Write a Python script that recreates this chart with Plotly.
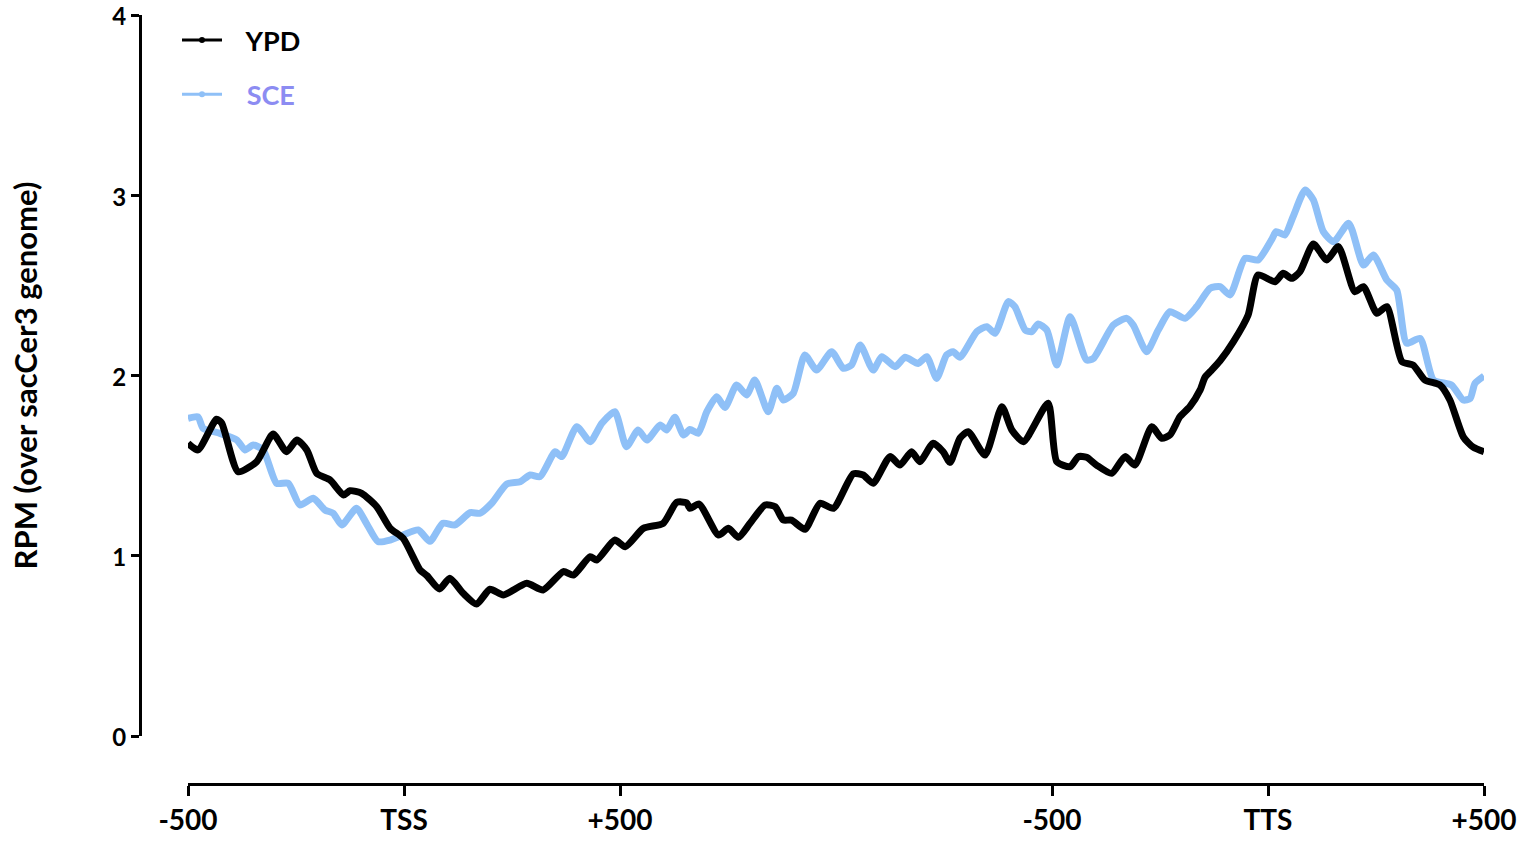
import plotly.graph_objects as go

# Genomic positions (metagene units: -500..TSS..+500 | scaled body | -500..TTS..+500)
ypd_x = [0, 23, 66, 78, 116, 159, 197, 228, 252, 275, 298, 329, 360, 375, 402, 437, 468, 498,
         537, 553, 582, 606, 637, 668, 699, 730, 784, 822, 869, 892, 931, 946, 988, 1012, 1054,
         1100, 1131, 1154, 1162, 1183, 1228, 1251, 1274, 1301, 1336, 1359, 1378, 1397, 1428,
         1463, 1494, 1540, 1563, 1586, 1625, 1648, 1675, 1694, 1725, 1748, 1764, 1787, 1806,
         1845, 1884, 1907, 1934, 1991, 2011, 2042, 2061, 2080, 2103, 2138, 2169, 2192, 2231,
         2254, 2273, 2296, 2319, 2343, 2354, 2366, 2389, 2420, 2454, 2477, 2516, 2535, 2555,
         2574, 2605, 2636, 2663, 2701, 2721, 2752, 2775, 2810, 2836, 2863, 2898, 2921, 2952,
         2975, 3000]
ypd_y = [1.624, 1.587, 1.757, 1.736, 1.466, 1.522, 1.675, 1.577, 1.642, 1.587, 1.457, 1.420,
         1.337, 1.361, 1.346, 1.272, 1.152, 1.097, 0.921, 0.890, 0.815, 0.875, 0.792, 0.732,
         0.814, 0.782, 0.847, 0.810, 0.912, 0.893, 0.995, 0.976, 1.087, 1.050, 1.152, 1.180,
         1.296, 1.294, 1.263, 1.287, 1.115, 1.152, 1.102, 1.180, 1.282, 1.272, 1.198, 1.198,
         1.147, 1.291, 1.263, 1.454, 1.448, 1.402, 1.550, 1.503, 1.577, 1.522, 1.624, 1.577,
         1.518, 1.652, 1.688, 1.559, 1.827, 1.698, 1.633, 1.846, 1.522, 1.494, 1.550, 1.546,
         1.503, 1.457, 1.550, 1.503, 1.716, 1.652, 1.670, 1.771, 1.827, 1.920, 1.990, 2.021,
         2.082, 2.188, 2.336, 2.558, 2.520, 2.567, 2.539, 2.576, 2.730, 2.641, 2.715, 2.465,
         2.493, 2.345, 2.382, 2.077, 2.058, 1.975, 1.947, 1.864, 1.660, 1.602, 1.577]

sce_x = [0, 23, 35, 74, 113, 132, 151, 174, 205, 232, 259, 290, 317, 336, 356, 390, 413, 440,
         468, 498, 533, 560, 590, 618, 653, 676, 703, 738, 769, 792, 815, 850, 865, 900, 931,
         958, 988, 1015, 1042, 1062, 1093, 1108, 1127, 1147, 1162, 1181, 1201, 1224, 1243,
         1270, 1293, 1312, 1343, 1363, 1378, 1401, 1428, 1455, 1490, 1517, 1536, 1556, 1586,
         1606, 1637, 1660, 1690, 1710, 1733, 1756, 1771, 1787, 1826, 1849, 1868, 1899, 1914,
         1938, 1953, 1968, 1988, 2011, 2042, 2080, 2096, 2142, 2173, 2188, 2219, 2246, 2273,
         2308, 2335, 2366, 2389, 2412, 2447, 2477, 2508, 2519, 2539, 2558, 2586, 2605, 2628,
         2652, 2687, 2721, 2744, 2775, 2798, 2821, 2852, 2883, 2925, 2952, 2968, 2979, 3000]
sce_y = [1.762, 1.771, 1.707, 1.679, 1.642, 1.587, 1.614, 1.587, 1.402, 1.402, 1.282, 1.319,
         1.254, 1.236, 1.171, 1.263, 1.180, 1.078, 1.087, 1.115, 1.143, 1.080, 1.180, 1.171,
         1.239, 1.236, 1.291, 1.398, 1.411, 1.448, 1.439, 1.577, 1.550, 1.716, 1.633, 1.735,
         1.799, 1.605, 1.698, 1.642, 1.725, 1.698, 1.768, 1.670, 1.700, 1.680, 1.799, 1.882,
         1.823, 1.947, 1.892, 1.975, 1.799, 1.929, 1.864, 1.901, 2.114, 2.030, 2.132, 2.040,
         2.058, 2.169, 2.030, 2.104, 2.049, 2.101, 2.067, 2.104, 1.984, 2.114, 2.132, 2.101,
         2.243, 2.271, 2.234, 2.410, 2.382, 2.252, 2.243, 2.286, 2.252, 2.058, 2.326, 2.086,
         2.095, 2.280, 2.317, 2.280, 2.132, 2.252, 2.354, 2.317, 2.382, 2.484, 2.493, 2.447,
         2.650, 2.641, 2.752, 2.798, 2.780, 2.881, 3.029, 2.974, 2.798, 2.742, 2.844, 2.613,
         2.669, 2.530, 2.474, 2.179, 2.206, 1.975, 1.947, 1.864, 1.873, 1.956, 1.997]

tick_vals = [0, 500, 1000, 2000, 2500, 3000]
tick_text = ["-500", "TSS", "+500", "-500", "TTS", "+500"]
y_ticks = [0, 1, 2, 3, 4]

BLUE = "#8FC0F7"
FONT = "Lato"
NB = "\u00a0"

fig = go.Figure()
fig.add_trace(go.Scatter(x=sce_x, y=sce_y, mode="lines",
                         line=dict(color=BLUE, width=7, shape="spline", smoothing=0.6),
                         showlegend=False, hoverinfo="skip"))
fig.add_trace(go.Scatter(x=ypd_x, y=ypd_y, mode="lines",
                         line=dict(color="black", width=7, shape="spline", smoothing=0.6),
                         showlegend=False, hoverinfo="skip"))
# legend entries
fig.add_trace(go.Scatter(x=[None], y=[None], mode="lines+markers", name=NB * 3 + "YPD",
                         legendgroup="a",
                         line=dict(color="black", width=3), marker=dict(color="black", size=6)))
fig.add_trace(go.Scatter(x=[None], y=[None], mode="lines+markers",
                         name=NB * 3 + "<span style='color:#8C8CF2'>SCE</span>",
                         legendgroup="b",
                         line=dict(color=BLUE, width=3), marker=dict(color=BLUE, size=6)))

# body margin is removed in the page, so figure coordinates = page coordinates
W, H = 1528, 843
ml, mr, mt, mb = 140, 44, 15, 59
pw, ph = W - ml - mr, H - mt - mb

fig.update_layout(
    width=W, height=H,
    margin=dict(l=ml, r=mr, t=mt, b=mb, autoexpand=False),
    plot_bgcolor="white", paper_bgcolor="white",
    font=dict(family=FONT, color="black", size=24),
    showlegend=True,
    legend=dict(x=(177 - ml) / pw, y=1 - 1 / ph, xanchor="left", yanchor="top",
                font=dict(family=FONT, size=27, color="black", weight="bold"),
                bgcolor="rgba(0,0,0,0)", itemwidth=40, tracegroupgap=16),
    xaxis=dict(domain=[48 / pw, 1], range=[0, 3000], anchor="free", position=0,
               automargin=False, ticklabeloverflow="allow",
               tickvals=tick_vals, ticktext=tick_text,
               showline=True, linecolor="black", linewidth=3,
               ticks="outside", ticklen=10, tickwidth=3, tickcolor="black",
               showgrid=False, zeroline=False,
               tickfont=dict(family=FONT, size=28, weight="bold")),
    yaxis=dict(domain=[48 / ph, 1], range=[0, 4], anchor="free", position=0,
               automargin=False, ticklabeloverflow="allow", ticklabelshift=2,
               tickvals=y_ticks,
               showline=True, linecolor="black", linewidth=3,
               ticks="outside", ticklen=8, tickwidth=3, tickcolor="black",
               showgrid=False, zeroline=False,
               tickfont=dict(family=FONT, size=24, weight="bold"),
               title=dict(text="RPM (over sacCer3 genome)", standoff=64,
                          font=dict(family=FONT, size=31, weight="bold"))),
)

fig.write_html("out.html", config={"displayModeBar": False},
               post_script="document.body.style.margin='0';document.body.style.overflow='hidden';")
